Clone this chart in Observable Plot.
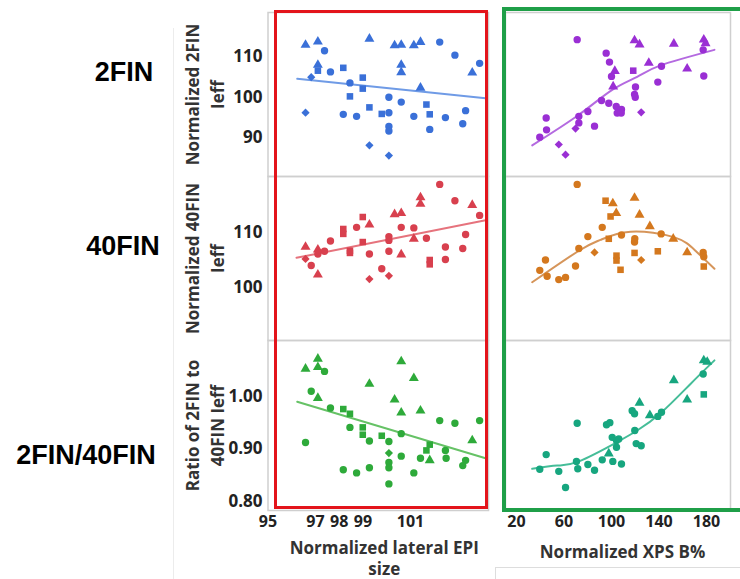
<!DOCTYPE html>
<html><head><meta charset="utf-8">
<script src="https://cdn.jsdelivr.net/npm/d3@7"></script>
<script src="https://cdn.jsdelivr.net/npm/@observablehq/plot@0.6"></script>
<style>
html,body{margin:0;padding:0;background:#fff}
body{width:740px;height:579px;overflow:hidden;position:relative;font-family:"Open Sans",sans-serif}
.abs{position:absolute}
.rowlab{position:absolute;transform:translate(-50%,-50%);font-family:"Liberation Sans",Arial,sans-serif;font-weight:bold;font-size:27px;color:#000;white-space:nowrap}
</style></head>
<body>
<script>
// ---------- data ----------
const rowLabels = ["2FIN", "40FIN", "2FIN/40FIN"];
const yTitles = ["Normalized 2FIN\nIeff", "Normalized 40FIN\nIeff", "Ratio of 2FIN to\n40FIN Ieff"];
const xTitles = ["Normalized lateral EPI\nsize", "Normalized XPS B%"];
const epiTicks = [95, 97, 98, 99, 101];
const xpsTicks = [20, 60, 100, 140, 180];
const yTicks1 = [90, 100, 110];
const yTicks2 = [100, 110];
const yTicks3 = [0.8, 0.9, 1.0];

// panel 1: 2FIN vs EPI
const epi1 = [96.58,97.10,97.38,97.10,97.10,97.63,98.17,96.82,98.45,98.99,98.99,98.45,99.27,100.33,100.61,100.61,100.61,101.14,101.42,102.23,102.87,103.91,103.60,101.42,96.58,98.17,98.73,99.27,99.79,100.09,100.09,100.61,101.14,101.67,101.81,102.47,103.32,103.20,100.09,100.09,101.81,99.27,100.09];
const ieff1 = [112.8,113.6,111.4,107.9,106.5,106.2,107.2,104.9,103.5,104.8,102.1,100.2,114.3,112.7,112.8,107.9,106.1,112.7,113.5,113.5,110.3,108.3,106.0,102.3,96.2,95.8,95.3,97.5,95.9,96.2,100.0,98.8,95.3,98.2,95.8,95.0,96.7,93.5,92.8,91.7,92.1,88.2,85.7];
const shp1 = "ttctscsdcssstttttttcccttdccssccccssccccccdd";
const fit1x = [96.23, 104.16], fit1y = [104.5, 99.75];

// panel 2: 2FIN vs XPS
const xps2 = [71.1,119.4,123.6,152.5,177.7,179.2,177.2,95.5,98.3,131.4,142.1,163.7,118.3,102.8,100.0,177.7,139.0,101.4,120.2,119.4,120.0,91.6,97.7,104.0,108.4,104.8,108.2,125.0,80.1,72.5,72.5,85.7,69.7,45.0,45.3,39.6,55.6,61.3];
const ieff2 = [114.1,113.9,112.9,113.1,114.1,113.2,111.6,110.8,108.6,108.4,107.6,107.0,106.5,106.4,105.1,105.2,103.7,102.6,102.5,100.7,100.0,99.2,98.5,97.7,97.0,96.1,96.1,96.3,96.5,95.3,93.7,92.9,92.3,94.9,92.0,90.2,88.4,85.9];
const shp2 = "ctttttccctctstccctcccccccccdccccdcccddd";
const fit2x = [33.2, 72.5, 100.6, 121.6, 141.3, 186.7], fit2y = [88.2, 95.7, 101.8, 105.0, 107.8, 111.6];

// panel 3: 40FIN vs EPI
const epi3 = [102.23,102.87,101.42,101.42,103.60,103.91,98.99,99.27,100.33,100.61,98.73,98.17,98.17,100.61,101.14,100.09,100.09,101.14,101.67,103.32,97.63,98.99,98.45,98.45,100.09,99.27,100.61,102.47,103.20,102.47,101.81,101.81,96.58,96.58,97.10,97.38,97.10,96.82,97.10,99.27,99.79,100.09];
const ieff3 = [118.9,115.9,116.5,115.3,115.1,113.2,112.9,111.5,113.4,113.6,111.0,110.7,109.8,111.0,110.9,109.3,108.6,108.9,109.0,109.7,108.5,108.3,106.7,106.3,106.6,106.1,106.0,107.4,107.1,105.1,105.0,104.2,107.4,105.2,106.9,106.6,106.1,104.0,102.3,101.5,103.4,102.1];
const shp3 = "cctttcstttcsscccctcccssscctcccsstdtccctdcd";
const fit3x = [96.2, 104.16], fit3y = [105.4, 112.3];

// panel 4: 40FIN vs XPS
const xps4 = [71.1,119.4,95.0,101.1,104.0,99.2,123.6,92.2,132.3,141.8,108.4,80.1,97.7,152.0,119.6,119.4,72.5,85.7,119.4,139.0,163.7,177.2,177.7,104.2,104.2,125.0,44.4,69.7,177.7,107.6,39.6,45.8,55.6,61.3];
const ieff4 = [118.9,116.4,115.9,115.4,113.6,113.0,113.3,111.0,111.2,109.8,109.6,109.3,108.9,108.9,108.9,108.3,107.1,106.4,106.3,106.6,106.4,106.4,105.6,105.8,104.9,105.0,105.0,103.9,103.8,103.2,103.1,102.0,101.4,101.8];
const shp4 = "ctsttstctcccstcccdsstccssdccsscccc";
const fit4x = [33.2, 72.5, 90.7, 116, 152.5, 170.7, 186.7], fit4y = [100.9, 106.7, 108.7, 110.2, 109.2, 106.7, 103.4];

// panel 5: ratio vs EPI
const epi5 = [96.58,97.10,97.10,97.38,96.82,97.10,99.27,100.61,101.14,100.33,100.61,101.42,97.63,98.17,98.45,98.45,98.99,98.99,99.27,99.79,100.09,100.61,102.23,102.87,103.91,103.60,101.81,101.67,102.47,102.5,101.42,101.81,103.32,103.20,96.58,100.09,100.09,100.09,100.61,98.17,98.73,99.27,101.14,100.09];
const ratio5 = [1.053,1.072,1.056,1.048,1.010,0.997,1.024,1.067,1.035,0.994,0.969,0.973,0.978,0.976,0.967,0.941,0.941,0.927,0.915,0.925,0.914,0.929,0.954,0.949,0.954,0.916,0.908,0.897,0.897,0.882,0.882,0.878,0.878,0.868,0.912,0.892,0.874,0.864,0.886,0.860,0.854,0.864,0.854,0.833];
const shp5 = "tttcctttttttcsscsscsccccctssccctcccdccccccccd";
const fit5x = [96.23, 104.16], fit5y = [0.990, 0.882];

// panel 6: ratio vs XPS
const xps6 = [177.7,180.6,177.2,152.5,163.7,177.7,123.6,117.4,119.4,132.3,139.0,142.1,95.8,98.6,71.1,119.6,100.6,104.2,106.1,104.2,120.8,125.0,97.7,101.1,108.4,92.2,70.5,71.6,80.1,85.7,45.0,39.6,55.6,61.3];
const ratio6 = [1.069,1.066,1.043,1.031,0.994,1.004,0.988,0.973,0.967,0.964,0.962,0.970,0.946,0.950,0.949,0.935,0.922,0.916,0.919,0.903,0.910,0.906,0.891,0.876,0.871,0.879,0.876,0.862,0.870,0.859,0.889,0.861,0.857,0.826];
const shp6 = "ttcttstcctcccccccccccctcccccccccccd";
const fit6x = [33.2, 54.3, 72.5, 104.8, 121.6, 141.3, 166.5, 186.7], fit6y = [0.862, 0.868, 0.876, 0.913, 0.935, 0.968, 1.024, 1.069];

const pointColors = ["#3a70d8", "#9a2fd4", "#d8404e", "#d4781e", "#2eaa3a", "#17a67f"];
const lineColors  = ["#6f9be6", "#b46ae0", "#e6737d", "#d6955a", "#66c266", "#45bd98"];

// ---------- drawing ----------
const symName = {t: "triangle", c: "circle", s: "square", d: "diamond2"};
function rows(xs, ys, sh) {
  return xs.map((x, i) => ({x, y: ys[i], s: symName[sh[i]] || "circle"}));
}
function pairs(xs, ys) { return xs.map((x, i) => ({x, y: ys[i]})); }

const colSpec = [
  {left: 175, width: 317, mL: 92.5, mR: 4, domain: [95, 104.284], ticks: epiTicks, title: xTitles[0], tdx: 6, tdy: 47},
  {left: 492, width: 248, mL: 13, mR: 10, domain: [10.74, 200.2], ticks: xpsTicks, title: xTitles[1], tdx: 4.5, tdy: 41}
];
const rowSpec = [
  {top: 0, height: 176, mT: 12, mB: 0, domain: [80.56, 120.76], ticks: yTicks1, fmt: d => String(d)},
  {top: 176, height: 164, mT: 0, mB: 0, domain: [90.20, 120.35], ticks: yTicks2, fmt: d => String(d)},
  {top: 340, height: 239, mT: 0, mB: 69, domain: [0.7822, 1.107], ticks: yTicks3, fmt: d3.format(".2f")}
];
const panels = [
  [{pts: rows(epi1, ieff1, shp1), fit: pairs(fit1x, fit1y), curve: "linear"},
   {pts: rows(xps2, ieff2, shp2), fit: pairs(fit2x, fit2y), curve: "natural"}],
  [{pts: rows(epi3, ieff3, shp3), fit: pairs(fit3x, fit3y), curve: "linear"},
   {pts: rows(xps4, ieff4, shp4), fit: pairs(fit4x, fit4y), curve: "natural"}],
  [{pts: rows(epi5, ratio5, shp5), fit: pairs(fit5x, fit5y), curve: "linear"},
   {pts: rows(xps6, ratio6, shp6), fit: pairs(fit6x, fit6y), curve: "natural"}]
];

rowSpec.forEach((r, ri) => {
  colSpec.forEach((c, ci) => {
    const p = panels[ri][ci];
    const k = ri * 2 + ci;
    const isBottom = ri === 2;
    const marks = [
      Plot.frame({stroke: "#cfcfcf", strokeWidth: 1.5}),
      Plot.line(p.fit, {x: "x", y: "y", stroke: lineColors[k], strokeWidth: 2, curve: p.curve}),
      Plot.dot(p.pts, {x: "x", y: "y", symbol: "s", fill: pointColors[k], r: 3.7})
    ];
    if (ci === 0) {
      marks.push(Plot.axisY({ticks: r.ticks, tickSize: 0, tickPadding: 5.5, tickFormat: r.fmt, label: null, fill: "#222"}));
      marks.push(Plot.text([yTitles[ri]], {frameAnchor: "left", textAnchor: "middle", lineAnchor: "middle", rotate: -90, dx: -64.5, lineHeight: 1.5, fontSize: 17, fontWeight: "bold", fill: "#333"}));
    }
    if (isBottom) {
      marks.push(Plot.axisX({ticks: c.ticks, tickSize: 0, tickPadding: 5, label: null, fill: "#222", fontSize: 16}));
      marks.push(Plot.text([c.title], {frameAnchor: "bottom", textAnchor: "middle", lineAnchor: "middle", dx: c.tdx, dy: c.tdy, lineHeight: 1.22, fontSize: 17, fontWeight: "bold", fill: "#333"}));
    }
    const chart = Plot.plot({
      width: c.width, height: r.height,
      marginLeft: c.mL, marginRight: c.mR, marginTop: r.mT, marginBottom: r.mB,
      x: {domain: c.domain, axis: isBottom ? undefined : null},
      y: {domain: r.domain, axis: ci === 0 ? undefined : null},
      style: {fontFamily: "Open Sans", fontSize: "17px", fontWeight: "bold", color: "#222", background: "transparent", overflow: "visible"},
      marks
    });
    chart.classList.add("abs");
    chart.style.left = c.left + "px";
    chart.style.top = r.top + "px";
    document.body.appendChild(chart);
  });
});

// decorations: highlight boxes and window edges
function box(l, t, w, h, css) {
  const d = document.createElement("div");
  d.className = "abs";
  d.style.cssText += `left:${l}px;top:${t}px;width:${w}px;height:${h}px;box-sizing:border-box;${css}`;
  document.body.appendChild(d);
}
box(173, 28, 1, 551, "background:#ececec");
box(495, 567, 245, 12, "border-top:1px solid #dddddd;border-left:1px solid #dddddd");
box(274, 10, 214, 499, "border:3px solid #e3141b");
box(502, 7, 260, 505, "border:4px solid #1f9f48");

const labelPos = [[124, 72], [123, 246], [86, 455]];
rowLabels.forEach((t, i) => {
  const d = document.createElement("div");
  d.className = "rowlab";
  d.style.left = labelPos[i][0] + "px";
  d.style.top = labelPos[i][1] + "px";
  d.textContent = t;
  document.body.appendChild(d);
});
</script>
</body></html>
